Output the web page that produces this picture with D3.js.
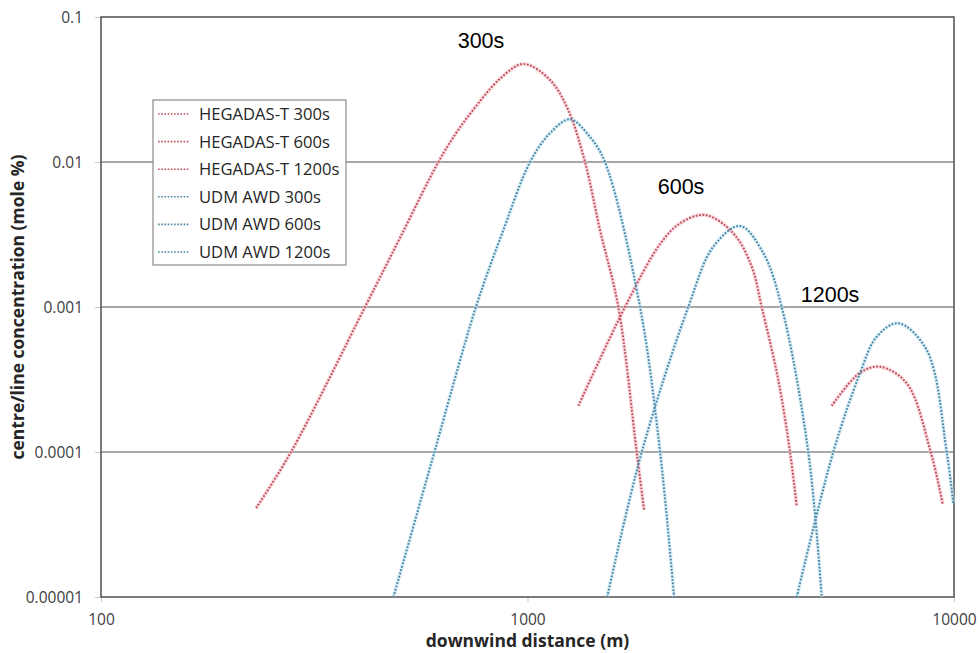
<!DOCTYPE html>
<html>
<head>
<meta charset="utf-8">
<script src="https://cdn.jsdelivr.net/npm/d3@7"></script>
<style>
  html, body { margin: 0; padding: 0; background: #ffffff; }
  svg { display: block; }
</style>
</head>
<body>
<svg id="chart" width="980" height="653"></svg>
<script>
// Centre-line concentration (mole %) against downwind distance (m)
const hegadas300 = [[231, 4.1e-5], [279, 1.0e-4], [416, 1.0e-3], [505, 3.09e-3], [618, 1.0e-2],
  [680, 0.0158], [745, 0.0228], [862, 0.0375], [978, 0.0474], [1129, 0.0368], [1246, 0.0228], [1364, 1.0e-2],
  [1479, 3.4e-3], [1633, 1.0e-3], [1803, 1.0e-4], [1876, 4.0e-5]];
const hegadas600 = [[1316, 2.08e-4], [1693, 1.0e-3], [2046, 2.72e-3], [2279, 3.78e-3],
  [2608, 4.31e-3], [3039, 3.22e-3], [3355, 1.9e-3], [3541, 1.0e-3], [3873, 3.14e-4], [4126, 1.0e-4], [4278, 4.24e-5]];
const hegadas1200 = [[5167, 2.08e-4], [6021, 3.52e-4], [6707, 3.87e-4], [7745, 2.98e-4], [8818, 1.0e-4], [9408, 4.38e-5]];
const udm300 = [[485, 1.0e-5], [605, 1.0e-4], [757, 1.0e-3], [878, 3.4e-3], [1014, 1.0e-2], [1129, 0.0158],
  [1258, 0.0197], [1401, 0.0149], [1519, 1.0e-2], [1836, 1.0e-3], [2046, 1.0e-4], [2206, 1.0e-5]];
const udm600 = [[1538, 1.0e-5], [1853, 1.0e-4], [2382, 1.0e-3], [2728, 2.61e-3], [3150, 3.62e-3],
  [3573, 2.35e-3], [3945, 1.0e-3], [4553, 1.0e-4], [4896, 1.0e-5]];
const udm1200 = [[4278, 1.0e-5], [5212, 1.0e-4], [6021, 3.5e-4], [6588, 6.24e-4], [7403, 7.72e-4],
  [8630, 5.05e-4], [9614, 1.0e-4], [9960, 4.43e-5]];

const seriesNames = ["HEGADAS-T 300s", "HEGADAS-T 600s", "HEGADAS-T 1200s", "UDM AWD 300s", "UDM AWD 600s", "UDM AWD 1200s"];
const seriesData = [hegadas300, hegadas600, hegadas1200, udm300, udm600, udm1200];
const seriesKind = ["red", "red", "red", "blue", "blue", "blue"];

const xTicks = [100, 1000, 10000];
const xTickLabels = ["100", "1000", "10000"];
const yTicks = [0.1, 0.01, 0.001, 0.0001, 0.00001];
const yTickLabels = ["0.1", "0.01", "0.001", "0.0001", "0.00001"];

const timeLabels = ["300s", "600s", "1200s"];
const timeLabelAt = [[778, 0.0611], [2291, 0.00601], [5122, 0.001089]];

const palette = {
  red:  { dot: "#c0505e", halo: "#f6c3ca" },
  blue: { dot: "#4a86a4", halo: "#c4e6f2" }
};

const svg = d3.select("#chart");
const margin = { left: 101, top: 17, right: 980 - 954, bottom: 653 - 597 };
const W = 980 - margin.left - margin.right;
const H = 653 - margin.top - margin.bottom;

const x = d3.scaleLog().domain([100, 10000]).range([0, W]);
const y = d3.scaleLog().domain([0.00001, 0.1]).range([H, 0]);

const g = svg.append("g").attr("transform", `translate(${margin.left},${margin.top})`);

// horizontal gridlines at inner decades
g.append("g").selectAll("line")
  .data(yTicks.slice(1, -1))
  .join("line")
  .attr("x1", 0).attr("x2", W)
  .attr("y1", d => y(d)).attr("y2", d => y(d))
  .attr("stroke", "#8a8a8a").attr("stroke-width", 1.4);

// axes with short outer ticks
const xAxis = d3.axisBottom(x).tickValues(xTicks).tickSize(5).tickFormat((d, i) => xTickLabels[i]);
const yAxis = d3.axisLeft(y).tickValues(yTicks).tickSize(6).tickFormat((d, i) => yTickLabels[i]);

const gx = g.append("g").attr("transform", `translate(0,${H})`).call(xAxis);
const gy = g.append("g").call(yAxis);
[gx, gy].forEach(a => {
  a.select(".domain").remove();
  a.selectAll(".tick line").attr("stroke", "#c8c8c8").attr("stroke-width", 1);
  a.selectAll(".tick text")
    .attr("fill", "#404040")
    .style("font-family", "'Open Sans', sans-serif")
    .style("font-size", "15.5px");
});
gx.selectAll(".tick text").attr("dy", null).attr("y", 28);
gy.selectAll(".tick text").attr("x", -18).attr("dy", "0.34em");

// plot frame
g.append("rect")
  .attr("x", 0).attr("y", 0).attr("width", W).attr("height", H)
  .attr("fill", "none").attr("stroke", "#595959").attr("stroke-width", 1.6);

// dotted curves
const line = d3.line()
  .x(d => x(d[0]))
  .y(d => y(d[1]))
  .curve(d3.curveCatmullRom.alpha(0.5));

const curves = g.append("g");
seriesData.forEach((data, i) => {
  const c = palette[seriesKind[i]];
  curves.append("path")
    .attr("d", line(data))
    .attr("fill", "none")
    .attr("stroke", c.halo)
    .attr("stroke-width", 4)
    .attr("stroke-opacity", 0.55);
});
seriesData.forEach((data, i) => {
  const c = palette[seriesKind[i]];
  curves.append("path")
    .attr("d", line(data))
    .attr("fill", "none")
    .attr("stroke", c.dot)
    .attr("stroke-width", 2)
    .attr("stroke-dasharray", "1.8,1.6");
});

// time annotations
g.append("g").selectAll("text")
  .data(timeLabels)
  .join("text")
  .attr("x", (d, i) => x(timeLabelAt[i][0]))
  .attr("y", (d, i) => y(timeLabelAt[i][1]))
  .attr("text-anchor", "middle")
  .attr("fill", "#000000")
  .style("font-family", "'Liberation Sans', Arial, sans-serif")
  .style("font-size", "21.5px")
  .text(d => d);

// legend
const lg = svg.append("g").attr("transform", "translate(153,100)");
lg.append("rect")
  .attr("x", 0).attr("y", 0).attr("width", 193).attr("height", 165)
  .attr("fill", "#ffffff").attr("stroke", "#8a8a8a").attr("stroke-width", 1.2);
const rows = lg.selectAll("g.row")
  .data(seriesNames)
  .join("g")
  .attr("class", "row")
  .attr("transform", (d, i) => `translate(0,${14 + i * 27.6})`);
rows.append("line")
  .attr("x1", 5).attr("x2", 37).attr("y1", 0).attr("y2", 0)
  .attr("stroke", (d, i) => palette[seriesKind[i]].dot)
  .attr("stroke-width", 1.6)
  .attr("stroke-dasharray", "1.6,1.6");
rows.append("text")
  .attr("x", 46).attr("y", 0).attr("dy", "0.36em")
  .attr("fill", "#262626")
  .style("font-family", "'Open Sans', sans-serif")
  .style("font-size", "16.6px")
  .text(d => d);

// axis titles
svg.append("text")
  .attr("x", margin.left + W / 2).attr("y", 647)
  .attr("text-anchor", "middle")
  .attr("fill", "#262626")
  .style("font-family", "'Open Sans', sans-serif")
  .style("font-weight", "bold")
  .style("font-size", "17.5px")
  .text("downwind distance (m)");

svg.append("text")
  .attr("transform", `translate(24,${margin.top + H / 2}) rotate(-90)`)
  .attr("text-anchor", "middle")
  .attr("fill", "#262626")
  .style("font-family", "'Open Sans', sans-serif")
  .style("font-weight", "bold")
  .style("font-size", "17.5px")
  .text("centre/line concentration (mole %)");
</script>
</body>
</html>
